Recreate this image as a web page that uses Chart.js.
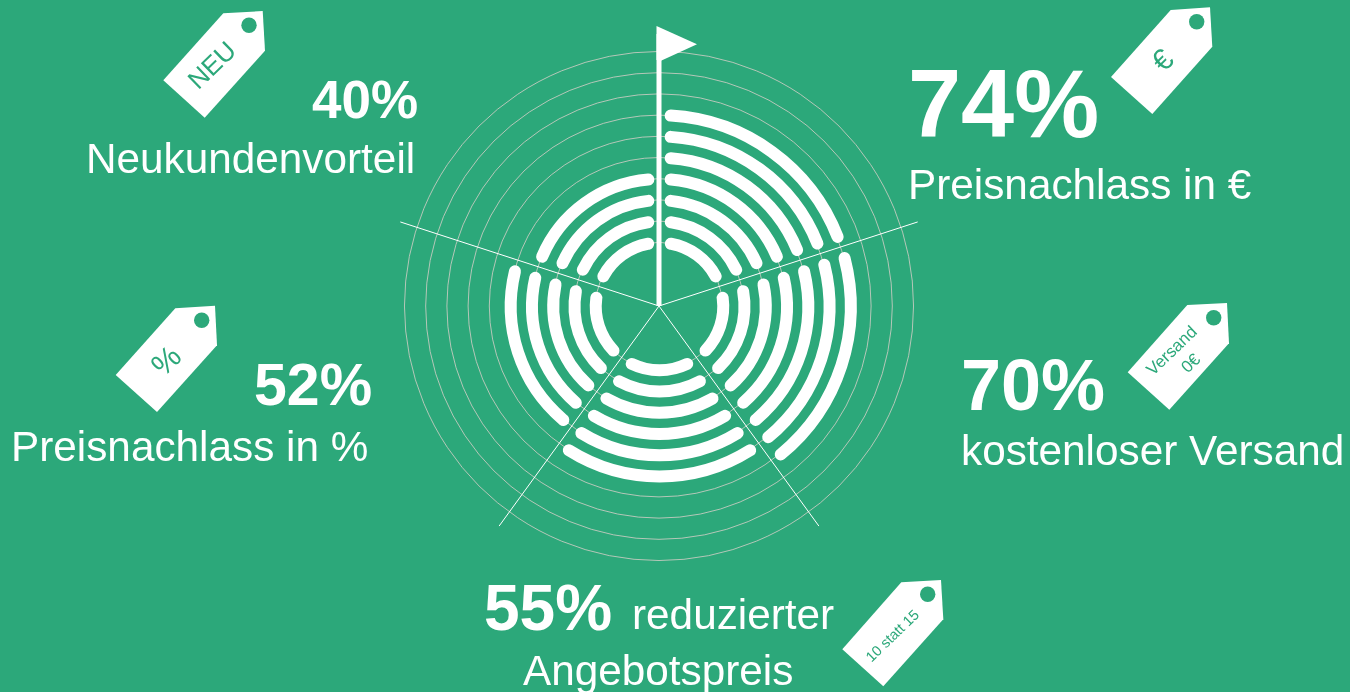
<!DOCTYPE html>
<html><head><meta charset="utf-8">
<script src="https://cdn.jsdelivr.net/npm/chart.js@4"></script>
<style>
html,body{margin:0;padding:0;background:#2ca87a;width:1350px;height:692px;overflow:hidden}
#wrap{position:absolute;left:387px;top:34px;width:545px;height:545px}
svg{position:absolute;left:0;top:0}
text{font-family:"Liberation Sans",Arial,sans-serif;fill:#fff}
</style></head><body>
<div id="wrap"><canvas id="c" width="545" height="545" style="width:545px;height:545px"></canvas></div>
<svg width="1350" height="692" viewBox="0 0 1350 692">
  <polygon points="656.5,26 697,44.3 661,60.7 656.5,60" fill="#fff"/>
  <g fill="#fff">
    <polygon points="223.3,13.3 262.7,11 265,50.7 204.7,117.7 163.3,80.3"/>
    <polygon points="1170.7,10 1210,7.3 1212.3,46.7 1152.3,114 1111,77"/>
    <polygon points="1187.3,305 1227,303 1229,343.3 1169.3,409.7 1127.7,372.3"/>
    <polygon points="901.3,582.3 941,580 943.3,619.3 883.3,686.3 842.3,649.3"/>
    <polygon points="175.3,308.3 215,305.7 217,345.3 157,412 115.7,375"/>
  </g>
  <g fill="#2ca87a">
    <circle cx="249" cy="25.3" r="7.7"/>
    <circle cx="1196.7" cy="21.7" r="7.7"/>
    <circle cx="1213.7" cy="317.7" r="7.7"/>
    <circle cx="927.7" cy="594.3" r="7.7"/>
    <circle cx="201.7" cy="320.3" r="7.7"/>
  </g>
  <g text-anchor="middle" dominant-baseline="central">
    <text style="fill:#2ca87a" font-size="26" transform="translate(211.7,65) rotate(-44)">NEU</text>
    <text style="fill:#2ca87a" font-size="30" transform="translate(1162.3,60) rotate(-44)">€</text>
    <text style="fill:#2ca87a" font-size="17" transform="translate(1171.7,350.7) rotate(-44)">Versand</text>
    <text style="fill:#2ca87a" font-size="17" transform="translate(1190.7,363.3) rotate(-44)">0€</text>
    <text style="fill:#2ca87a" font-size="14.5" transform="translate(892.3,635.7) rotate(-44)">10 statt 15</text>
    <text style="fill:#2ca87a" font-size="31" transform="translate(166,360.7) rotate(-44)">%</text>
  </g>
  <g id="labels"></g>
</svg>
<script>
var categories = ["Preisnachlass in €", "kostenloser Versand", "reduzierter Angebotspreis", "Preisnachlass in %", "Neukundenvorteil"];
var values = [74, 70, 55, 52, 40];
var valueLabels = ["74%", "70%", "55%", "52%", "40%"];
var ringSteps = [3, 4, 5, 6, 7, 8, 9];      // filled tracks, innermost first (one track = 10 %)

var WHITE = "#ffffff", NONE = "rgba(0,0,0,0)", TRACK = "rgba(205,205,195,0.85)";
var stepPx = 21.25, barPx = 12, capSpacing = 16;
var scaleMax = 272.5 / stepPx;

function filled(value, step) { return Math.round(value / 10) >= step - 2; }

var datasets = [];
var outerSteps = ringSteps.slice().reverse();
outerSteps.forEach(function (step, i) {
  datasets.push({
    data: values.map(function () { return 1; }),
    backgroundColor: values.map(function (v) { return filled(v, step) ? WHITE : NONE; }),
    borderWidth: 0, borderRadius: barPx / 2, spacing: capSpacing, weight: barPx
  });
  if (i < outerSteps.length - 1) {
    datasets.push({
      data: values.map(function () { return 1; }),
      backgroundColor: NONE, borderWidth: 0, spacing: 0, weight: stepPx - barPx
    });
  }
});

var s = capSpacing / 2;
var outerR = outerSteps[0] * stepPx + barPx / 2 - s;
var innerR = ringSteps[0] * stepPx - barPx / 2 - s;

new Chart(document.getElementById("c"), {
  type: "doughnut",
  data: { labels: categories, datasets: datasets },
  options: {
    responsive: false, animation: false, events: [],
    radius: outerR,
    cutout: (innerR / outerR * 100) + "%",
    layout: { padding: 0 },
    plugins: { legend: { display: false }, tooltip: { enabled: false } },
    scales: {
      r: {
        type: "radialLinear", min: 0, max: scaleMax,
        ticks: { display: false, stepSize: 1 },
        pointLabels: { display: false },
        grid: {
          circular: true, lineWidth: 1,
          color: function (ctx) {
            var v = ctx.tick ? ctx.tick.value : 0;
            return (v >= 3 && v <= 12) ? TRACK : NONE;
          }
        },
        angleLines: {
          display: true,
          color: WHITE,
          lineWidth: function (ctx) { return ctx.index === 0 ? 5 : 1; }
        }
      }
    }
  }
});

var g = document.getElementById("labels");
function t(str, x, y, size, bold) {
  var el = document.createElementNS("http://www.w3.org/2000/svg", "text");
  el.textContent = str;
  el.setAttribute("x", x); el.setAttribute("y", y); el.setAttribute("font-size", size);
  if (bold) el.setAttribute("font-weight", "bold");
  g.appendChild(el);
}
t(valueLabels[4], 312, 118, 53, true);
t(categories[4], 86, 173, 42.3, false);
t(valueLabels[0], 908, 137, 95.5, true);
t(categories[0], 908, 199, 42.3, false);
t(valueLabels[3], 254, 405, 59, true);
t(categories[3], 11, 461, 42.3, false);
t(valueLabels[1], 961, 410, 72, true);
t(categories[1], 961, 465, 42.3, false);
t(valueLabels[2], 484, 630, 64, true);
t("reduzierter", 632, 629, 42.3, false);
t("Angebotspreis", 523, 685, 42.3, false);
</script>
</body></html>
